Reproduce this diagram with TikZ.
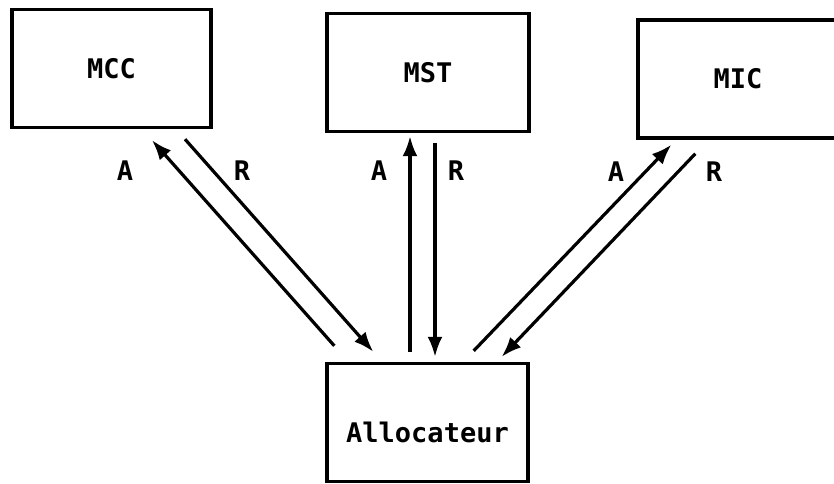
\documentclass[tikz,border=0pt]{standalone}
\usepackage{fontspec}
\usepackage{tikz}
\usetikzlibrary{positioning, arrows.meta}
\newfontfamily\boxfont{DejaVu Sans Mono}

\tikzset{
    module/.style={draw, line width=3.4pt, minimum width=#1, minimum height=118, inner sep=0pt,
        font=\boxfont\bfseries\fontsize{27}{30}\selectfont},
    flow/.style={line width=3.2pt, -{Latex[length=20pt, width=15pt]}},
    tag/.style={font=\boxfont\bfseries\fontsize{27}{30}\selectfont, inner sep=0pt}
}

\begin{document}
\begin{tikzpicture}[x=1pt, y=-1pt]
    \useasboundingbox (0,0) rectangle (834,483);

    % Modules
    \node[module=199] (mcc) at (111.5, 68.5) {MCC};
    \node[module=202] (mst) at (428, 72.5) {MST};
    \node[module=200] (mic) at (738, 79) {MIC};
    \node[module=201] (alloc) at (427.5, 422.5) {\raisebox{-20pt}[0pt][0pt]{Allocateur}};

    % Requests / answers
    \draw[flow] ([shift={(9,-16)}]alloc.north west) -- ([shift={(40.5,11)}]mcc.south); % A
    \draw[flow] ([shift={(73.5,10)}]mcc.south) -- ([shift={(48,-10)}]alloc.north west); % R
    \draw[flow] ([shift={(-17.5,-10)}]alloc.north) -- ([shift={(-18,3)}]mst.south); % A
    \draw[flow] ([shift={(7,10)}]mst.south) -- ([shift={(7.5,-5)}]alloc.north); % R
    \draw[flow] ([shift={(-56,-11)}]alloc.north east) -- ([shift={(35,5)}]mic.south west); % A
    \draw[flow] ([shift={(59,14)}]mic.south west) -- ([shift={(-28,-5)}]alloc.north east); % R

    % Labels
    \node[tag] (a1) at (125, 171) {A};
    \node[tag] (r1) at (242, 171) {R};
    \node[tag] (a2) at (379, 171) {A};
    \node[tag] (r2) at (456, 171) {R};
    \node[tag] (a3) at (616, 172) {A};
    \node[tag] (r3) at (714, 172) {R};
\end{tikzpicture}
\end{document}
